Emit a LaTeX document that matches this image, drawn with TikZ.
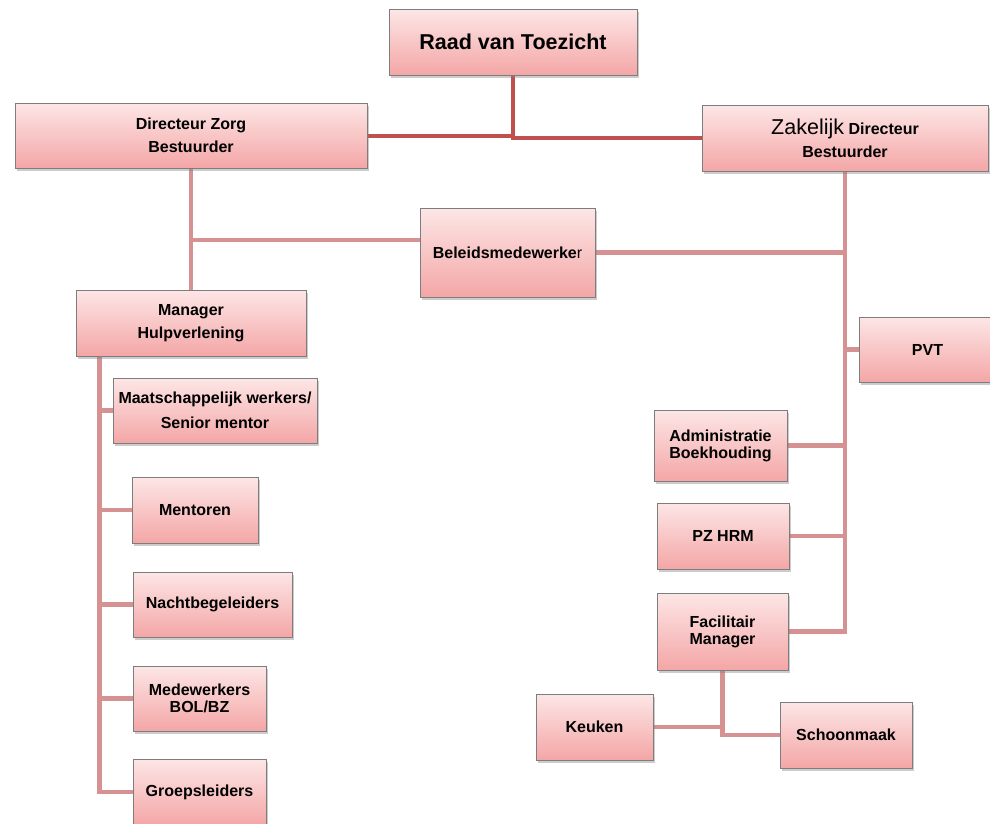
\documentclass[tikz,border=0pt]{standalone}
\usepackage{fontspec}
\setmainfont{Liberation Sans}
\usetikzlibrary{shadows,backgrounds}
\definecolor{boxtop}{RGB}{253,230,230}
\definecolor{boxbot}{RGB}{244,166,166}
\definecolor{boxline}{RGB}{125,125,125}
\definecolor{toplinkc}{RGB}{192,80,77}
\definecolor{linkc}{RGB}{214,146,146}
\tikzset{
  orgbox/.style={draw=boxline,line width=0.8pt,top color=boxtop,bottom color=boxbot,
    drop shadow={opacity=0.4,shadow xshift=2pt,shadow yshift=-3pt},
    align=center,inner sep=0pt,font=\bfseries\fontsize{16}{23}\selectfont},
  tight/.style={font=\bfseries\fontsize{16}{17}\selectfont},
  toplink/.style={draw=toplinkc,line width=4pt},
  link/.style={draw=linkc,line width=4.5pt}
}

\begin{document}
\begin{tikzpicture}[x=1pt,y=-1pt]
\useasboundingbox (0,0) rectangle (990,823);
% top level
\node[orgbox,minimum width=248pt,minimum height=66pt,font=\bfseries\fontsize{21.5}{25}\selectfont] (raad) at (513,42) {Raad van Toezicht};
\node[orgbox,minimum width=352pt,minimum height=65pt] (zorg) at (191,135.5) {Directeur Zorg\\Bestuurder};
\node[orgbox,minimum width=286pt,minimum height=66pt] (zak) at (845,138) {{\mdseries\fontsize{21.5}{25}\selectfont Zakelijk} Directeur\\Bestuurder};
\node[orgbox,minimum width=175pt,minimum height=89pt] (beleid) at (507.5,252.5) {Beleidsmedewerke{\mdseries r}};
% zorg side
\node[orgbox,minimum width=230pt,minimum height=66pt] (mgr) at (191,323) {Manager\\Hulpverlening};
\node[orgbox,minimum width=204pt,minimum height=65pt,font=\bfseries\fontsize{16}{25}\selectfont] (maats) at (215,410.5) {Maatschappelijk werkers/\\Senior mentor};
\node[orgbox,minimum width=126pt,minimum height=66pt] (ment) at (195,510) {Mentoren};
\node[orgbox,minimum width=159pt,minimum height=65pt] (nacht) at (212.5,604.5) {Nachtbegeleiders};
\node[orgbox,tight,minimum width=133pt,minimum height=65pt] (medew) at (199.5,698.5) {Medewerkers\\BOL/BZ};
\node[orgbox,minimum width=133pt,minimum height=66pt] (groep) at (199.5,792) {Groepsleiders};
% zakelijk side
\node[orgbox,minimum width=137pt,minimum height=65pt] (pvt) at (927.5,349.5) {PVT};
\node[orgbox,tight,minimum width=133pt,minimum height=71pt] (adm) at (720.5,445.5) {Administratie\\Boekhouding};
\node[orgbox,minimum width=132pt,minimum height=66pt] (pz) at (723,536) {PZ HRM};
\node[orgbox,tight,minimum width=131pt,minimum height=77pt] (fac) at (722.5,631.5) {Facilitair\\Manager};
\node[orgbox,minimum width=117pt,minimum height=66pt] (keuken) at (594.5,727) {Keuken};
\node[orgbox,minimum width=132pt,minimum height=66pt] (schoon) at (846,735) {Schoonmaak};

\begin{scope}[on background layer]
\draw[toplink] (raad.south) |- (zak.west);
\draw[toplink] (zorg.east) -- (zorg.east -| raad.south);
\draw[link] (zorg.south) -- (mgr.north);
\draw[link] ([yshift=12.5pt]beleid.west) -- ([yshift=12.5pt]beleid.west -| zorg.south);
\draw[link] (zak.south) |- (fac.east);
\draw[link] (beleid.east) -- (beleid.east -| zak.south);
\draw[link] (pvt.west) -- (pvt.west -| zak.south);
\foreach \n in {adm,pz}
  \draw[link] (\n.east) -- (\n.east -| zak.south);
\coordinate (mv) at ([xshift=24pt]mgr.south west);
\draw[link] (mv) |- (groep.west);
\foreach \n in {maats,ment,nacht,medew}
  \draw[link] (\n.west) -- (\n.west -| mv);
\draw[link] (fac.south) |- (schoon.west);
\draw[link] (keuken.east) -- (keuken.east -| fac.south);
\end{scope}
\end{tikzpicture}
\end{document}
